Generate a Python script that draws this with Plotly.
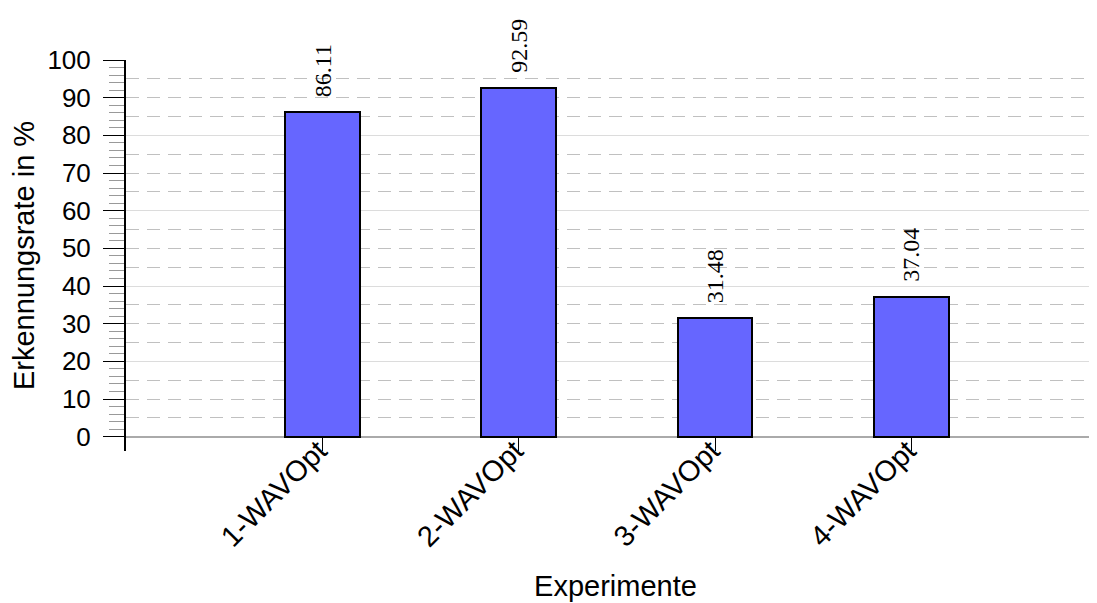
import plotly.graph_objects as go

categories = ["1-WAVOpt", "2-WAVOpt", "3-WAVOpt", "4-WAVOpt"]
values = [86.11, 92.59, 31.48, 37.04]
y_major_ticks = [0, 10, 20, 30, 40, 50, 60, 70, 80, 90, 100]
y_minor_ticks = [v for v in range(2, 100, 2) if v % 10 != 0]

SANS = "Liberation Sans, Arial, sans-serif"
SERIF = "Liberation Serif, Times New Roman, serif"

fig = go.Figure()
fig.add_trace(go.Bar(
    x=categories, y=values, width=0.38,
    marker=dict(color="#6666ff", line=dict(color="black", width=2)),
    showlegend=False, hoverinfo="x+y",
))
# invisible helper trace so the overlaid grid axis is drawn
fig.add_trace(go.Scatter(
    x=categories, y=[None] * len(categories), yaxis="y2",
    mode="markers", showlegend=False, hoverinfo="skip",
))

for c, v in zip(categories, values):
    fig.add_annotation(
        x=c, y=v, text=f"{v:.2f}", textangle=-90, showarrow=False,
        yanchor="bottom", xanchor="center", yshift=13,
        font=dict(family=SERIF, size=24, color="black"),
    )

fig.update_layout(
    width=1097, height=603,
    margin=dict(l=118, r=0, t=52, b=160, autoexpand=False),
    plot_bgcolor="white", paper_bgcolor="white",
    font=dict(family=SANS, color="black"),
    bargap=0,
    xaxis=dict(
        type="category", range=[-1, 3.985], automargin=False,
        ticks="inside", ticklen=14, tickcolor="black", tickwidth=1,
        tickangle=-45, tickfont=dict(family=SANS, size=29, color="black"),
        ticklabelstandoff=-24, ticklabelshift=-4,
        showline=False, showgrid=False, zeroline=False,
        title=dict(text="Experimente", font=dict(family=SANS, size=29, color="black"), standoff=23),
    ),
    yaxis=dict(
        range=[-3.8, 100], tickmode="array", tickvals=y_major_ticks, automargin=False,
        ticks="outside", ticklen=21, tickcolor="black", tickwidth=1,
        tickfont=dict(family=SANS, size=26, color="black"),
        ticklabelstandoff=7,
        showline=True, linecolor="black", linewidth=2,
        showgrid=False,
        zeroline=True, zerolinecolor="#aaaaaa", zerolinewidth=2,
        minor=dict(tickmode="array", tickvals=y_minor_ticks, ticks="outside",
                   ticklen=15, tickcolor="#999999", tickwidth=1, showgrid=False),
        title=dict(text="Erkennungsrate in %", font=dict(family=SANS, size=29, color="black"), standoff=6),
    ),
    yaxis2=dict(
        overlaying="y", side="right", range=[-3.8, 100], automargin=False,
        tick0=0, dtick=20, showgrid=True, gridcolor="#dcdcdc", gridwidth=1,
        showticklabels=False, ticks="", showline=False, zeroline=False,
        minor=dict(tick0=0, dtick=5, showgrid=True, gridcolor="#c0c0c0",
                   griddash="13px,8px", gridwidth=1, ticks=""),
    ),
)

fig.write_html("out.html")
